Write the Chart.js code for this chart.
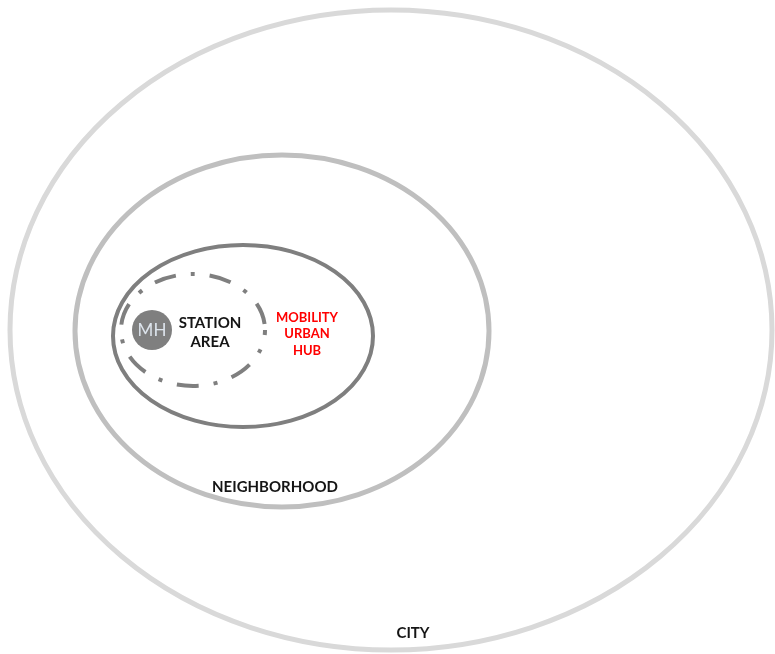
<!DOCTYPE html>
<html>
<head>
<meta charset="utf-8">
<script src="https://cdn.jsdelivr.net/npm/chart.js@4"></script>
<style>
  html, body { margin: 0; padding: 0; background: #ffffff; }
  #wrap { width: 775px; height: 654px; position: relative; }
</style>
</head>
<body>
<div id="wrap"><canvas id="c" width="775" height="654"></canvas></div>
<script>
// ---- Data (diagram coordinates, same units as the axes) ----
const zoneNames   = ["CITY", "NEIGHBORHOOD", "MOBILITY URBAN HUB", "STATION AREA"];
const zoneCenterX = [391, 282, 243, 193];
const zoneCenterY = [330, 331, 336, 330];
const zoneRadiusX = [381, 207, 130, 72];
const zoneRadiusY = [320, 176, 91, 56];

const hubName    = "MH";
const hubCenterX = 152;
const hubCenterY = 330;
const hubRadius  = 20;

const labelLines = [["CITY"], ["NEIGHBORHOOD"], ["MOBILITY", "URBAN", "HUB"], ["STATION", "AREA"]];
const labelX     = [413, 275, 307, 210];
const labelY     = [633, 487, 334, 333];

// ---- Styles ----
const zoneStroke = ["#d9d9d9", "#bfbfbf", "#7f7f7f", "#7f7f7f"];
const zoneWidth  = [5, 5, 4, 4];
const zoneDash   = [[], [], [], [22, 15, 4, 15]];
const zoneDashOffset = [0, 0, 0, 17];
const labelColor = ["#151515", "#151515", "#ff0000", "#151515"];
const labelFont  = ["bold 15px Lato", "bold 15px Lato", "bold 13px Lato", "bold 15px Lato"];
const labelLineH = [16, 16, 16.5, 19];

const diagramPlugin = {
  id: 'diagram',
  afterDatasetsDraw(chart) {
    const ctx = chart.ctx;
    const xs = chart.scales.x, ys = chart.scales.y;
    const px = v => xs.getPixelForValue(v);
    const py = v => ys.getPixelForValue(v);
    ctx.save();
    // ellipses
    for (let i = 0; i < zoneNames.length; i++) {
      const cx = px(zoneCenterX[i]), cy = py(zoneCenterY[i]);
      const rx = Math.abs(px(zoneCenterX[i] + zoneRadiusX[i]) - cx);
      const ry = Math.abs(py(zoneCenterY[i] + zoneRadiusY[i]) - cy);
      ctx.beginPath();
      ctx.ellipse(cx, cy, rx, ry, 0, 0, Math.PI * 2);
      ctx.strokeStyle = zoneStroke[i];
      ctx.lineWidth = zoneWidth[i];
      ctx.setLineDash(zoneDash[i]);
      ctx.lineDashOffset = zoneDashOffset[i];
      ctx.lineCap = 'butt';
      ctx.stroke();
    }
    ctx.setLineDash([]);
    ctx.lineDashOffset = 0;
    // MH circle
    const hx = px(hubCenterX), hy = py(hubCenterY);
    const hr = Math.abs(px(hubCenterX + hubRadius) - hx);
    ctx.beginPath();
    ctx.arc(hx, hy, hr, 0, Math.PI * 2);
    ctx.fillStyle = "#7f7f7f";
    ctx.fill();
    ctx.fillStyle = "#dde4ec";
    ctx.font = "17px Lato";
    ctx.textAlign = "center";
    ctx.textBaseline = "middle";
    ctx.fillText(hubName, hx, hy + 1);
    // labels
    for (let i = 0; i < labelLines.length; i++) {
      const lines = labelLines[i];
      ctx.font = labelFont[i];
      ctx.fillStyle = labelColor[i];
      const lh = labelLineH[i];
      const x = px(labelX[i]);
      const y0 = py(labelY[i]) - (lines.length - 1) * lh / 2;
      lines.forEach((t, k) => ctx.fillText(t, x, y0 + k * lh));
    }
    ctx.restore();
  }
};

new Chart(document.getElementById('c'), {
  type: 'scatter',
  data: {
    datasets: [{
      label: 'zones',
      data: zoneNames.map((n, i) => ({ x: zoneCenterX[i], y: zoneCenterY[i] })),
      pointRadius: 0,
      pointHoverRadius: 0
    }]
  },
  options: {
    responsive: false,
    animation: false,
    events: [],
    layout: { padding: 0 },
    plugins: { legend: { display: false }, tooltip: { enabled: false } },
    scales: {
      x: { type: 'linear', min: 0, max: 775, display: false },
      y: { type: 'linear', min: 0, max: 654, reverse: true, display: false }
    }
  },
  plugins: [diagramPlugin]
});
</script>
</body>
</html>
